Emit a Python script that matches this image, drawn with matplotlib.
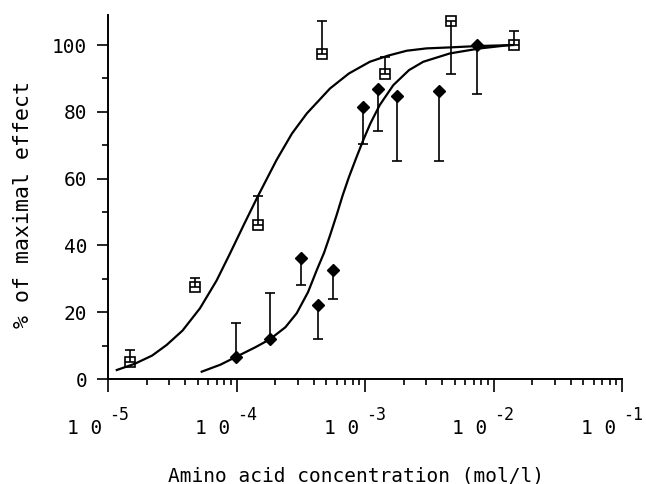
import numpy as np
import matplotlib
matplotlib.use("Agg")
import matplotlib.pyplot as plt

plt.rcParams["font.family"] = ["DejaVu Sans Mono", "DejaVu Sans"]

# open squares (error bars mostly upward)
sq_x = [1.48e-5, 4.75e-5, 1.46e-4, 4.6e-4, 1.43e-3, 4.64e-3, 1.44e-2]
sq_y = [5.2, 27.5, 46.1, 97.2, 91.3, 107.3, 100.0]
sq_lo = [0, 0, 0, 0, 0, 16.0, 0]
sq_hi = [3.5, 2.6, 8.8, 9.9, 5.0, 0, 4.2]

# filled diamonds
dia_x = [9.86e-5, 1.82e-4, 3.18e-4, 4.33e-4, 5.67e-4, 9.7e-4, 1.26e-3, 1.78e-3, 3.75e-3, 7.48e-3]
dia_y = [6.7, 11.9, 36.2, 22.2, 32.6, 81.5, 86.9, 84.6, 86.2, 100.0]
dia_lo = [0, 0, 8.1, 10.2, 8.7, 11.1, 12.6, 19.2, 20.8, 14.6]
dia_hi = [10.2, 13.8, 0, 0, 0, 0, 0, 0, 0, 0]

# fitted curves
c1_x = [1.17e-5, 1.6e-5, 2.2e-5, 2.86e-5, 3.8e-5, 5.2e-5, 7.0e-5, 8.9e-5, 1.15e-4, 1.46e-4,
        2.05e-4, 2.7e-4, 3.52e-4, 5.34e-4, 7.5e-4, 1.09e-3, 1.5e-3, 2.11e-3, 3.0e-3, 4.58e-3,
        7.5e-3, 1.42e-2]
c1_y = [2.7, 4.5, 7.0, 10.2, 14.5, 21.2, 29.5, 37.6, 46.5, 54.6,
        65.6, 73.5, 79.5, 87.0, 91.5, 95.0, 96.8, 98.3, 99.0, 99.3,
        99.7, 100.0]
c2_x = [5.36e-5, 7.5e-5, 1.0e-4, 1.4e-4, 1.82e-4, 2.4e-4, 2.94e-4, 3.6e-4, 4.21e-4, 4.8e-4,
        5.34e-4, 6.0e-4, 6.7e-4, 7.5e-4, 8.5e-4, 9.7e-4, 1.1e-3, 1.3e-3, 1.66e-3, 2.2e-3,
        2.84e-3, 4.58e-3, 7.85e-3, 1.34e-2]
c2_y = [2.2, 4.3, 6.7, 9.5, 11.9, 15.5, 19.7, 26.0, 32.6, 37.8,
        43.0, 49.0, 55.0, 60.5, 66.0, 71.6, 76.5, 82.0, 88.0, 92.5,
        95.0, 97.5, 99.0, 100.0]

exponents = [-5, -4, -3, -2, -1]
y_ticks = [0, 20, 40, 60, 80, 100]

fig = plt.figure(figsize=(6.46, 4.84), dpi=100)
ax = fig.add_axes([0.1672, 0.2169, 0.7957, 0.7521])

ax.plot(c1_x, c1_y, color="black", lw=1.6)
ax.plot(c2_x, c2_y, color="black", lw=1.6)

ax.errorbar(sq_x, sq_y, yerr=[sq_lo, sq_hi], fmt="s", ms=7.5, mfc="none", mec="black",
            mew=1.2, ecolor="black", elinewidth=1.2, capsize=3.6, capthick=1.2)
ax.errorbar(dia_x, dia_y, yerr=[dia_lo, dia_hi], fmt="D", ms=6.5, mfc="black", mec="black",
            ecolor="black", elinewidth=1.2, capsize=3.6, capthick=1.2)

ax.set_xscale("log")
ax.set_xlim(1e-5, 1e-1)
ax.set_ylim(0, 109)

for s in ["top", "right"]:
    ax.spines[s].set_visible(False)
for s in ["left", "bottom"]:
    ax.spines[s].set_linewidth(1.4)

ax.set_yticks(y_ticks)
ax.set_yticks([10, 30, 50, 70, 90], minor=True)
ax.set_yticklabels([str(v) for v in y_ticks], fontsize=14)
ax.tick_params(axis="y", which="major", length=8, width=1.2, pad=7)
ax.tick_params(axis="y", which="minor", length=4, width=1.2)

ax.set_xticks([10.0 ** e for e in exponents])
ax.set_xticks([m * 10.0 ** e for e in exponents[:-1] for m in range(2, 10)], minor=True)
ax.set_xticklabels([])
ax.xaxis.set_minor_formatter(plt.NullFormatter())
ax.tick_params(axis="x", which="major", length=9, width=1.2)
ax.tick_params(axis="x", which="minor", length=4.5, width=1.2)

# "1 0" with the exponent raised, as in the plotter output
for e in exponents:
    ax.annotate("1 0", xy=(10.0 ** e, 0), xycoords=("data", "axes fraction"),
                xytext=(-6, -55), textcoords="offset pixels",
                ha="right", va="baseline", fontsize=14)
    ax.annotate("-%d" % -e, xy=(10.0 ** e, 0), xycoords=("data", "axes fraction"),
                xytext=(1, -41), textcoords="offset pixels",
                ha="left", va="baseline", fontsize=12)

fig.text(356 / 646, 3 / 484, "Amino acid concentration (mol/l)", ha="center", va="baseline", fontsize=14)
fig.text(23 / 646, 1 - 205 / 484, "% of maximal effect", rotation=90, ha="center", va="center", fontsize=15.5)

fig.savefig("out.png", dpi=100)
